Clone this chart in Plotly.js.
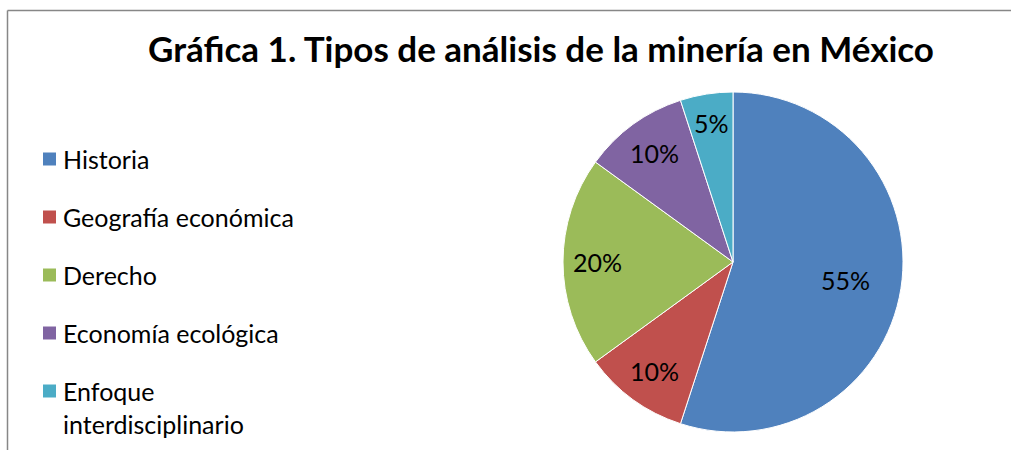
<!DOCTYPE html>
<html>
<head>
<meta charset="utf-8">
<script src="https://cdn.plot.ly/plotly-3.0.1.min.js"></script>
<style>html,body{margin:0;padding:0;background:#fff;}#chart{width:1011px;height:450px;}</style>
</head>
<body>
<div id="chart"></div>
<script>
const categories = ["Historia", "Geografía económica", "Derecho", "Economía ecológica", "Enfoque interdisciplinario"];
const legendLabels = ["Historia", "Geografía económica", "Derecho", "Economía ecológica", "Enfoque<br>interdisciplinario"];
const values = [55, 10, 20, 10, 5];
const colors = ["#4F81BD", "#C0504D", "#9BBB59", "#8064A2", "#4BACC6"];

const W = 1011, H = 450;
const FONT = "Lato, 'Open Sans', sans-serif";

// pie geometry (layout)
const CX = 733, CY = 262, R = 170;
// label distance from centre, as a fraction of the radius (Excel "best fit" style)
const labelRadius = [0.67, 0.79, 0.8, 0.79, 0.825];

const trace = {
  type: "pie",
  labels: categories,
  values: values,
  sort: false,
  direction: "clockwise",
  rotation: 0,
  marker: {colors: colors, line: {color: "#ffffff", width: 1}},
  textinfo: "none",
  textposition: "none",
  showlegend: false,
  hoverinfo: "label+percent",
  domain: {x: [(CX - R) / W, (CX + R) / W], y: [(H - CY - R) / H, (H - CY + R) / H]}
};

const shapes = [
  {type: "line", xref: "paper", yref: "paper", x0: 7.5 / W, x1: 7.5 / W, y0: 0, y1: (H - 10.5) / H, line: {color: "#878787", width: 1.5}},
  {type: "line", xref: "paper", yref: "paper", x0: 7.5 / W, x1: 1, y0: (H - 10.5) / H, y1: (H - 10.5) / H, line: {color: "#878787", width: 1.5}}
];
const annotations = [];

// legend
const legTop = 159, legStep = 58, sq = 13, legFont = 25;
categories.forEach((c, i) => {
  const cy = legTop + i * legStep;
  shapes.push({type: "rect", xref: "paper", yref: "paper",
    x0: 43 / W, x1: (43 + sq) / W, y0: (H - cy - sq / 2) / H, y1: (H - cy + sq / 2) / H,
    fillcolor: colors[i], line: {width: 0}});
  annotations.push({xref: "paper", yref: "paper", x: 61 / W, y: (H - cy + 17.5) / H,
    xanchor: "left", yanchor: "top", align: "left", showarrow: false,
    text: legendLabels[i], font: {family: FONT, size: legFont, color: "#000000"}});
});

// percentage labels, placed at each slice's mid-angle
const total = values.reduce((a, b) => a + b, 0);
let cum = 0;
values.forEach((v, i) => {
  const mid = (cum + v / 2) / total * 2 * Math.PI;
  cum += v;
  const r = R * labelRadius[i];
  const px = CX + r * Math.sin(mid);
  const py = CY - r * Math.cos(mid);
  annotations.push({xref: "paper", yref: "paper", x: px / W, y: (H - py) / H,
    xanchor: "center", yanchor: "middle", showarrow: false,
    text: Math.round(v / total * 100) + "%", font: {family: FONT, size: 25, color: "#000000"}});
});

const layout = {
  width: W, height: H,
  margin: {l: 0, r: 0, t: 0, b: 0},
  paper_bgcolor: "#ffffff",
  title: {text: "<b>Gráfica 1. Tipos de análisis de la minería en México</b>",
    x: 541 / W, xanchor: "center", xref: "paper", y: 1 - 50 / H, yanchor: "middle", yref: "container",
    font: {family: FONT, size: 35, color: "#000000"}},
  shapes: shapes,
  annotations: annotations
};

Plotly.newPlot("chart", [trace], layout, {displayModeBar: false, staticPlot: true});
</script>
</body>
</html>
